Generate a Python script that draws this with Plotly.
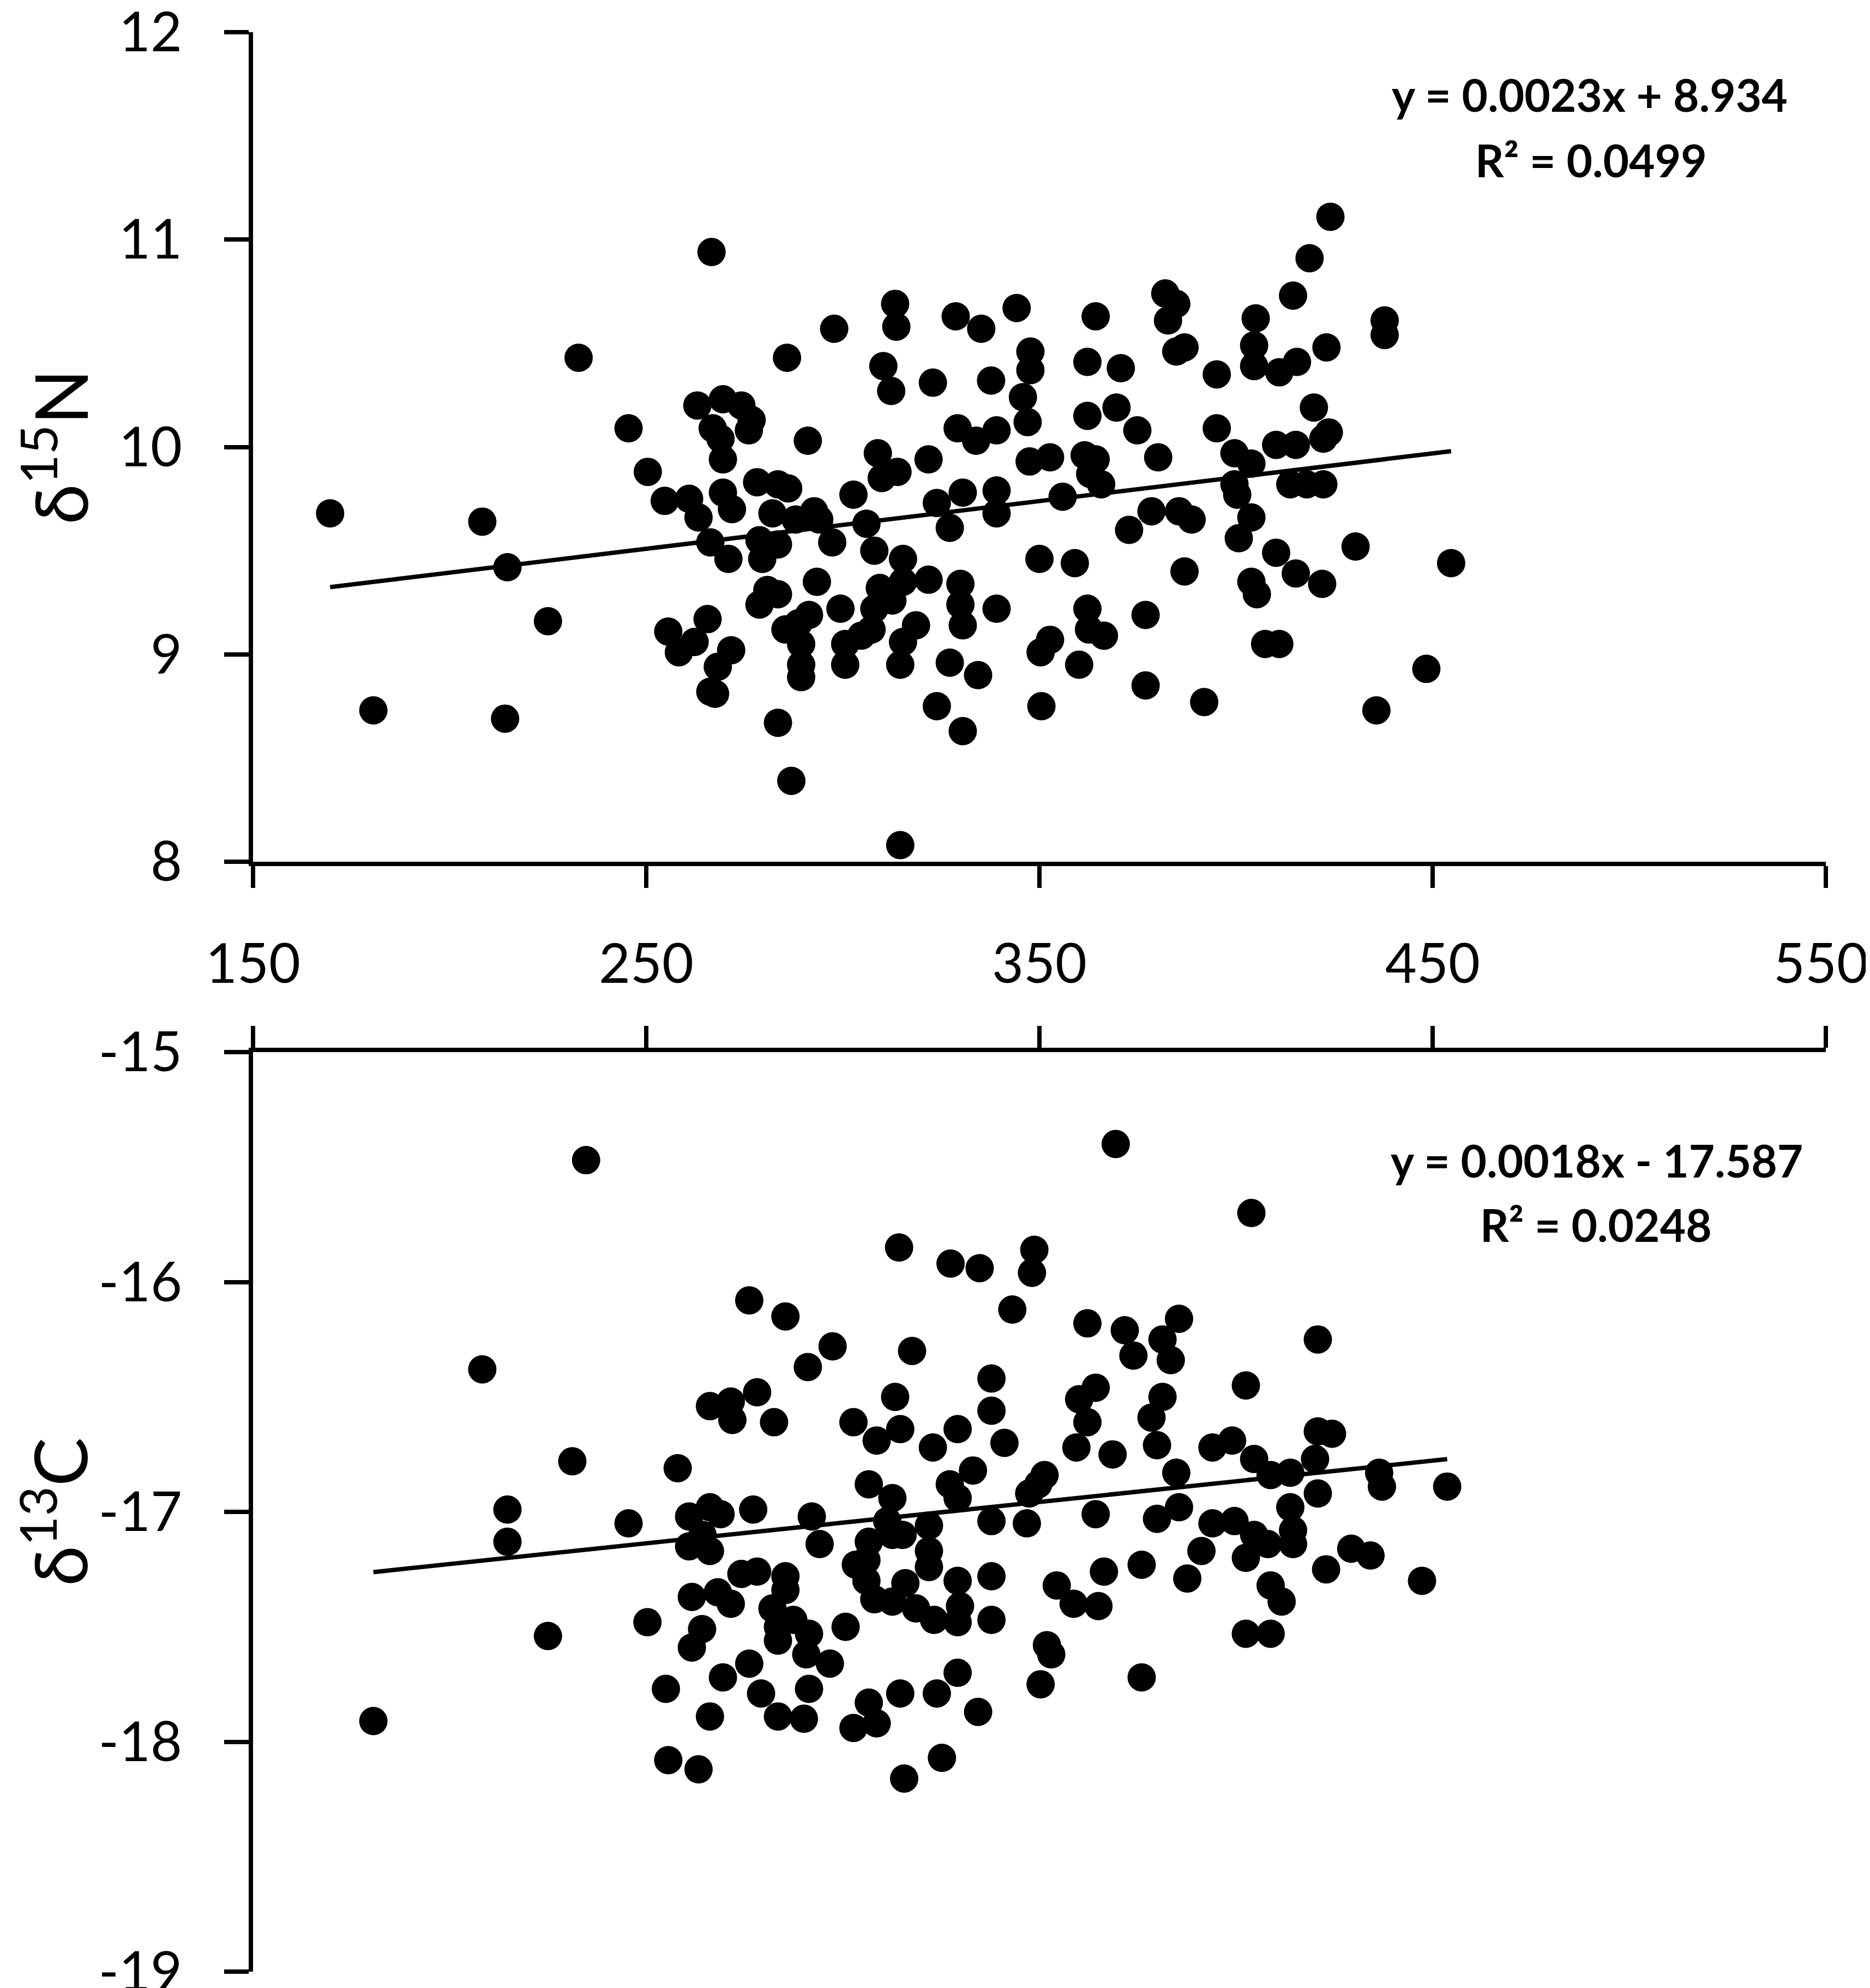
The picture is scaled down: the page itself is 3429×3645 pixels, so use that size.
import plotly.graph_objects as go

# ---------------- data ----------------
n15_x = [169.6, 180.6, 208.3, 214.7, 214.1, 225.0, 232.8,
         245.5, 250.4, 254.7, 260.9, 263.3, 263.0, 269.5, 274.2, 276.8, 276.1, 266.9, 268.9, 269.5,
         269.5, 271.8, 278.2, 283.5, 286.1, 282.1, 288.0, 292.7, 294.0, 291.1, 302.7, 308.9, 309.9,
         313.9, 321.8, 329.2, 333.9, 339.1, 345.8, 347.0, 347.7, 347.7, 347.5, 330.5, 339.1, 339.1,
         323.9, 327.2, 306.0, 266.3, 270.9, 278.8, 279.5, 283.5, 297.3, 308.0, 315.3, 315.3, 309.4,
         312.6, 308.0, 321.8, 329.9, 329.9, 318.6, 315.3, 314.6, 330.5, 327.2, 334.4, 339.1, 323.9,
         330.5, 283.5, 280.8, 283.5, 278.8, 293.4, 299.4, 304.7, 300.6, 307.3, 300.6, 288.7, 289.4,
         289.4, 289.4, 285.4, 291.4, 255.6, 258.3, 262.3, 265.6, 271.6, 268.2, 267.5, 266.3, 350.0,
         350.3, 350.5, 266.6, 313.3, 328.7, 344.2, 297.8, 313.6, 335.2, 285.8, 310.3, 312.3, 322.9,
         337.7, 286.9, 314.6,
         424.0, 418.7, 414.5, 382.0, 384.8, 382.7, 364.3, 437.8, 437.8, 405.0, 404.6, 404.6, 384.8,
         386.9, 362.2, 370.7, 395.1, 411.0, 415.5, 423.0, 362.2, 369.6, 374.9, 352.7, 361.5, 364.3,
         362.9, 365.7, 380.2, 355.9, 395.1, 399.6, 403.9, 399.6, 400.3, 403.9, 410.2, 415.2, 419.8,
         423.6, 422.2, 413.8, 418.0, 422.2, 378.5, 385.5, 388.7, 372.8, 400.7, 359.0, 386.9, 410.2,
         415.2, 421.9, 403.9, 405.3, 430.4, 454.7, 362.2, 362.6, 366.4, 377.0, 352.7, 360.1, 407.4,
         411.0, 448.4, 377.0, 391.9, 435.7]
n15_y = [9.68, 8.73, 9.64, 9.42, 8.69, 9.16, 10.43,
         10.09, 9.88, 9.74, 9.75, 9.66, 10.20, 10.23, 10.20, 10.13, 10.08, 10.09, 10.04, 9.94,
         9.78, 9.70, 9.83, 9.82, 9.80, 9.68, 9.65, 9.69, 9.65, 10.03, 9.77, 9.97, 9.85,
         9.88, 9.94, 10.09, 10.03, 10.08, 10.24, 10.12, 10.46, 10.37, 9.93, 9.78, 9.79, 9.68,
         9.73, 9.61, 9.63, 9.54, 9.46, 9.55, 9.46, 9.53, 9.54, 9.50, 9.46, 9.35, 9.32,
         9.26, 9.22, 9.36, 9.34, 9.24, 9.14, 9.06, 8.95, 9.14, 8.96, 8.90, 9.22, 8.75,
         8.63, 8.67, 9.31, 9.29, 9.24, 9.35, 9.22, 9.09, 9.05, 9.12, 8.95, 9.15, 9.05,
         8.95, 8.89, 9.12, 9.19, 9.11, 9.01, 9.06, 9.17, 9.02, 8.94, 8.81, 8.82, 9.46,
         9.01, 8.75, 10.94, 10.69, 10.63, 10.67, 10.57, 10.58, 10.57, 10.43, 10.39, 10.27, 10.31,
         10.32, 8.39, 8.08,
         11.11, 10.91, 10.73, 10.74, 10.69, 10.61, 10.63, 10.61, 10.54, 10.62, 10.49, 10.39, 10.46,
         10.48, 10.41, 10.38, 10.35, 10.36, 10.41, 10.48, 10.15, 10.19, 10.08, 9.95, 9.96, 9.94,
         9.87, 9.82, 9.95, 9.76, 10.09, 9.97, 9.92, 9.82, 9.77, 9.66, 10.01, 10.01, 10.19,
         10.07, 10.04, 9.82, 9.82, 9.82, 9.69, 9.69, 9.65, 9.60, 9.56, 9.44, 9.40, 9.49,
         9.39, 9.34, 9.35, 9.29, 9.52, 9.44, 9.22, 9.12, 9.09, 9.19, 9.07, 8.95, 9.05,
         9.05, 8.93, 8.85, 8.77, 8.73]

c13_x = [180.6, 208.3, 214.7, 214.7, 225.0, 231.2, 234.7,
         314.3, 327.4, 334.8, 348.1, 348.7, 369.4, 403.9,
         276.2, 285.4, 297.4, 291.1, 317.6, 343.1, 337.8,
         266.2, 271.5, 271.9, 278.2, 282.5, 313.3, 302.7, 308.6, 314.6, 322.9,
         329.2, 337.8, 341.1, 258.0, 333.1, 327.2, 329.2, 306.6, 312.6, 245.5,
         260.9, 266.2, 268.9, 264.3, 266.2, 260.9, 277.2, 292.1, 294.1, 311.3, 312.6,
         315.2, 321.9, 321.9, 306.6, 306.0, 303.3, 306.0, 308.0, 337.8,
         349.7, 351.3, 346.8, 347.4,
         315.9, 321.9, 329.2, 329.8, 323.2, 329.2, 318.6, 312.6, 337.8, 337.8,
         350.3, 351.9, 353.0,
         274.2, 278.2, 285.4, 285.4, 261.6, 268.2, 271.5, 250.3, 264.2, 261.6,
         282.1, 283.5, 283.5, 287.4, 291.4, 290.7, 296.7, 300.7, 276.2, 269.5, 279.2, 283.5,
         290.1, 291.4, 255.0, 266.2, 255.6, 263.3, 306.6, 314.6, 308.6, 302.7, 323.9, 329.2,
         334.4, 325.2, 315.6,
         362.2, 371.7, 373.9, 381.3, 385.5, 383.4, 420.8, 402.5, 360.1, 364.3, 362.2, 359.4,
         381.3, 378.5, 379.9, 368.6, 384.8, 394.0, 399.0, 404.6, 408.8, 413.8, 420.1, 420.8,
         424.4, 420.8, 436.4, 437.1, 453.7, 364.3, 379.9, 385.5, 394.0, 399.6, 404.6, 408.1,
         402.5, 413.8, 414.5, 414.5, 429.3, 434.2, 391.2, 387.6, 376.0, 366.4, 354.4, 358.7,
         365.0, 422.9, 447.3, 408.8, 411.6, 402.5, 408.8, 376.0]
c13_y = [-17.91, -16.38, -16.99, -17.13, -17.54, -16.78, -15.47,
         -15.85, -15.92, -15.94, -15.96, -15.86, -15.40, -15.70,
         -16.08, -16.15, -16.28, -16.37, -16.30, -16.12, -16.42,
         -16.54, -16.52, -16.60, -16.48, -16.61, -16.50, -16.61, -16.69, -16.64, -16.72,
         -16.64, -16.56, -16.70, -16.81, -16.82, -16.88, -16.94, -16.88, -16.94, -17.05,
         -17.02, -16.98, -17.01, -17.10, -17.17, -17.15, -16.99, -17.02, -17.14, -17.04, -17.10,
         -17.10, -17.06, -17.17, -17.13, -17.21, -17.23, -17.30, -17.38, -17.04,
         -16.88, -16.84, -17.05, -16.92,
         -17.31, -17.24, -17.30, -17.41, -17.47, -17.48, -17.42, -17.39, -17.28, -17.47,
         -17.75, -17.58, -17.62,
         -17.27, -17.26, -17.28, -17.34, -17.37, -17.35, -17.40, -17.48, -17.51, -17.59,
         -17.42, -17.50, -17.56, -17.47, -17.53, -17.62, -17.66, -17.50, -17.66, -17.72, -17.79, -17.89,
         -17.90, -17.77, -17.77, -17.89, -18.08, -18.12, -17.83, -17.79, -17.92, -17.94, -17.79, -17.70,
         -17.87, -18.07, -18.16,
         -16.18, -16.21, -16.32, -16.25, -16.16, -16.34, -16.25, -16.45, -16.51, -16.46, -16.61, -16.72,
         -16.50, -16.59, -16.71, -16.75, -16.83, -16.72, -16.69, -16.77, -16.84, -16.83, -16.77, -16.65,
         -16.66, -16.92, -16.83, -16.89, -16.89, -17.01, -17.03, -16.98, -17.05, -17.04, -17.10, -17.14,
         -17.20, -16.98, -17.08, -17.14, -17.16, -17.19, -17.17, -17.29, -17.23, -17.26, -17.32, -17.40,
         -17.41, -17.25, -17.30, -17.32, -17.39, -17.53, -17.53, -17.72]

# trend-line coefficients as printed on the chart
n15_fit = [0.0023, 8.934]
c13_fit = [0.0018, -17.587]
n15_label = ["y = 0.0023x + 8.934", "R\u00b2 = 0.0499"]
c13_label = ["y = 0.0018x - 17.587", "R\u00b2 = 0.0248"]

x_ticks = [150, 250, 350, 450, 550]
x_tick_text = ["150", "250", "350", "450", "550"]
n15_ticks = [8, 9, 10, 11, 12]
n15_tick_text = ["8", "9", "10", "11", "12"]
c13_ticks = [-19, -18, -17, -16, -15]
c13_tick_text = ["-19", "-18", "-17", "-16", "-15"]

# ---------------- figure ----------------
FONT = "Lato"
W, H = 3429, 3645
L, R, T, B = 456, W - 3340, 51, H - 3607
plot_h = H - T - B
top_dom = [(3607 - 1572) / plot_h, 1.0]
bot_dom = [0.0, (3607 - 1921) / plot_h]

fig = go.Figure()

mk = dict(color="black", size=52, symbol="circle", line=dict(width=0))

fig.add_trace(go.Scatter(x=n15_x, y=n15_y, mode="markers", marker=mk,
                         xaxis="x", yaxis="y", showlegend=False))
fx = [min(n15_x), max(n15_x)]
fig.add_trace(go.Scatter(x=fx, y=[n15_fit[0] * v + n15_fit[1] for v in fx], mode="lines",
                         line=dict(color="black", width=8), xaxis="x", yaxis="y",
                         showlegend=False))

fig.add_trace(go.Scatter(x=c13_x, y=c13_y, mode="markers", marker=mk,
                         xaxis="x2", yaxis="y2", showlegend=False))
gx = [min(c13_x), max(c13_x)]
fig.add_trace(go.Scatter(x=gx, y=[c13_fit[0] * v + c13_fit[1] for v in gx], mode="lines",
                         line=dict(color="black", width=8), xaxis="x2", yaxis="y2",
                         showlegend=False))

axis_common = dict(showline=True, linecolor="black", linewidth=8, ticks="outside",
                   tickcolor="black", tickwidth=8, showgrid=False, zeroline=False,
                   automargin=False, ticklabeloverflow="allow",
                   tickfont=dict(family=FONT, size=100, color="black"))

fig.update_layout(
    width=W, height=H,
    margin=dict(l=L, r=R, t=T, b=B),
    paper_bgcolor="white", plot_bgcolor="white",
    xaxis=dict(axis_common, range=[150, 550], tickvals=x_ticks, ticklen=40,
               anchor="y", domain=[0, 1], showticklabels=False),
    yaxis=dict(axis_common, range=[8, 12], tickvals=n15_ticks, ticktext=n15_tick_text,
               ticklen=45, anchor="x", domain=top_dom, ticklabelstandoff=57),
    xaxis2=dict(axis_common, range=[150, 550], tickvals=x_ticks, ticklen=40,
                anchor="y2", domain=[0, 1], side="top", showticklabels=False),
    yaxis2=dict(axis_common, range=[-19, -15], tickvals=c13_ticks, ticktext=c13_tick_text,
                ticklen=45, anchor="x2", domain=bot_dom, ticklabelstandoff=57),
)

# x tick labels of the upper panel, placed at the tick values; the last one is
# kept inside the page as in the original
tick_font = dict(family=FONT, size=100, color="black")
for i, (v, t) in enumerate(zip(x_ticks, x_tick_text)):
    last = i == len(x_ticks) - 1
    fig.add_annotation(x=v, y=0, xref="x", yref="y domain", text=t, showarrow=False,
                       xanchor="right" if last else "center", yanchor="middle",
                       xshift=80 if last else 0, yshift=-183, font=tick_font)

ann_font = dict(family=FONT, size=82, color="black", weight="bold")
fig.add_annotation(x=490, y=11.70, xref="x", yref="y", text=n15_label[0],
                   showarrow=False, font=ann_font)
fig.add_annotation(x=490.3, y=11.385, xref="x", yref="y", text=n15_label[1],
                   showarrow=False, font=ann_font)
fig.add_annotation(x=491.7, y=-15.47, xref="x2", yref="y2", text=c13_label[0],
                   showarrow=False, font=ann_font)
fig.add_annotation(x=491.6, y=-15.75, xref="x2", yref="y2", text=c13_label[1],
                   showarrow=False, font=ann_font)

title_font = dict(family=FONT, size=134, color="black")
fig.add_annotation(x=0, y=0.5, xref="paper", yref="y domain", xshift=-364,
                   xanchor="center", yanchor="middle",
                   text="\u03b4<sup>15</sup>N", textangle=-90, showarrow=False,
                   font=title_font)
fig.add_annotation(x=0, y=0.5, xref="paper", yref="y2 domain", xshift=-364,
                   xanchor="center", yanchor="middle",
                   text="\u03b4<sup>13</sup>C", textangle=-90, showarrow=False,
                   font=title_font)

fig.write_html("out.html")
